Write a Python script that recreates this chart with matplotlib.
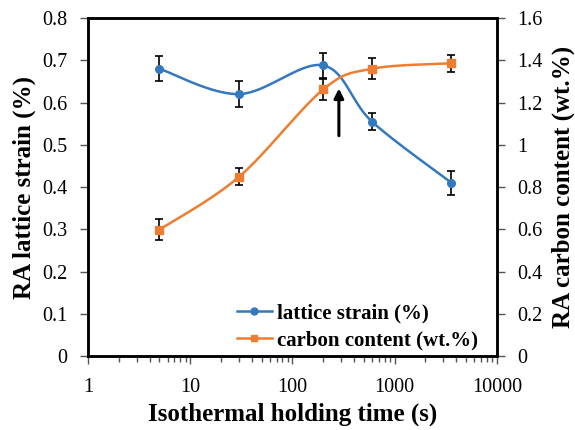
import numpy as np
import matplotlib
matplotlib.use("Agg")
import matplotlib.pyplot as plt
from matplotlib.ticker import LogLocator, NullFormatter
from matplotlib.lines import Line2D

plt.rcParams['font.family'] = ['Liberation Serif', 'DejaVu Serif']

time_s = [5, 30, 200, 600, 3600]
lattice_strain = [0.68, 0.62, 0.688, 0.555, 0.41]
lattice_err = [0.03, 0.03, 0.03, 0.02, 0.028]
carbon = [0.598, 0.848, 1.262, 1.36, 1.386]
carbon_err = [0.05, 0.04, 0.05, 0.05, 0.04]

x_ticks = [1, 10, 100, 1000, 10000]
x_ticklabels = ['1', '10', '100', '1000', '10000']
left_ticks = [0, 0.1, 0.2, 0.3, 0.4, 0.5, 0.6, 0.7, 0.8]
left_ticklabels = ['0', '0.1', '0.2', '0.3', '0.4', '0.5', '0.6', '0.7', '0.8']
right_ticks = [0, 0.2, 0.4, 0.6, 0.8, 1.0, 1.2, 1.4, 1.6]
right_ticklabels = ['0', '0.2', '0.4', '0.6', '0.8', '1', '1.2', '1.4', '1.6']

blue = '#3479bd'
orange = '#ed7d31'


def smooth(xs, ys, n=40):
    lx = np.log10(np.asarray(xs, float))
    y = np.asarray(ys, float)
    P = np.column_stack([lx, y])
    P = np.vstack([P[0], P, P[-1]])
    out = []
    for i in range(1, len(P) - 2):
        p0, p1, p2, p3 = P[i - 1], P[i], P[i + 1], P[i + 2]
        c1 = p1 + (p2 - p0) / 6.0
        c2 = p2 - (p3 - p1) / 6.0
        t = np.linspace(0, 1, n)[:, None]
        seg = ((1 - t) ** 3) * p1 + 3 * ((1 - t) ** 2) * t * c1 + 3 * (1 - t) * t ** 2 * c2 + t ** 3 * p2
        out.append(seg)
    out = np.vstack(out)
    return 10 ** out[:, 0], out[:, 1]


fig = plt.figure(figsize=(5.75, 4.3), dpi=100)
ax = fig.add_axes([0.153, 0.172, 0.711, 0.786])
ax2 = ax.twinx()

sx, sy = smooth(time_s, lattice_strain)
ax.plot(sx, sy, color=blue, lw=1.8, zorder=3)
ax.errorbar(time_s, lattice_strain, yerr=lattice_err, fmt='o', color=blue, ms=5.5,
            ecolor='black', elinewidth=1.2, capsize=3, capthick=1.2, zorder=4)

cx, cy = smooth(time_s, carbon)
ax2.plot(cx, cy, color=orange, lw=1.8, zorder=3)
ax2.errorbar(time_s, carbon, yerr=carbon_err, fmt='s', color=orange, ms=5.5,
             ecolor='black', elinewidth=1.2, capsize=3, capthick=1.2, zorder=4)

ax.set_xscale('log')
ax.set_xlim(1, 10000)
ax.set_ylim(0, 0.8)
ax2.set_ylim(0, 1.6)
ax.set_yticks(left_ticks)
ax.set_yticklabels(left_ticklabels)
ax2.set_yticks(right_ticks)
ax2.set_yticklabels(right_ticklabels)
ax.set_xticks(x_ticks)
ax.set_xticklabels(x_ticklabels)
ax.xaxis.set_minor_locator(LogLocator(base=10, subs=np.arange(2, 10)))
ax.xaxis.set_minor_formatter(NullFormatter())

tick_color = '#555555'
ax.tick_params(axis='x', which='both', direction='out', labelsize=14.5, pad=10, color=tick_color)
ax.tick_params(axis='x', which='major', length=6, width=1)
ax.tick_params(axis='x', which='minor', length=4, width=1)
ax.tick_params(axis='y', direction='out', labelsize=14.5, length=6, width=1, pad=9, color=tick_color)
ax2.tick_params(axis='y', direction='out', labelsize=14.5, length=6, width=1, pad=9, color=tick_color)

for a in (ax, ax2):
    for s in a.spines.values():
        s.set_linewidth(1.8)

ax.set_xlabel('Isothermal holding time (s)', fontsize=18, fontweight='bold', labelpad=4)
ax.set_ylabel('RA lattice strain (%)', fontsize=18, fontweight='bold', labelpad=4)
ax2.set_ylabel('RA carbon content (wt.%)', fontsize=18, fontweight='bold', labelpad=6)

ax.annotate('', xy=(285, 0.64), xytext=(285, 0.515),
            arrowprops=dict(arrowstyle='-|>', color='black', lw=2.2, mutation_scale=14))

h1 = Line2D([], [], color=blue, marker='o', lw=1.8, ms=5)
h2 = Line2D([], [], color=orange, marker='s', lw=1.8, ms=5)
ax.legend([h1, h2], ['lattice strain (%)', 'carbon content (wt.%)'],
          loc='center left', bbox_to_anchor=(0.364, 0.086), frameon=False,
          borderaxespad=0, borderpad=0,
          prop={'weight': 'bold', 'size': 15}, handlelength=1.7, handletextpad=0.25,
          labelspacing=0.35)

fig.savefig('out.png', dpi=100)
